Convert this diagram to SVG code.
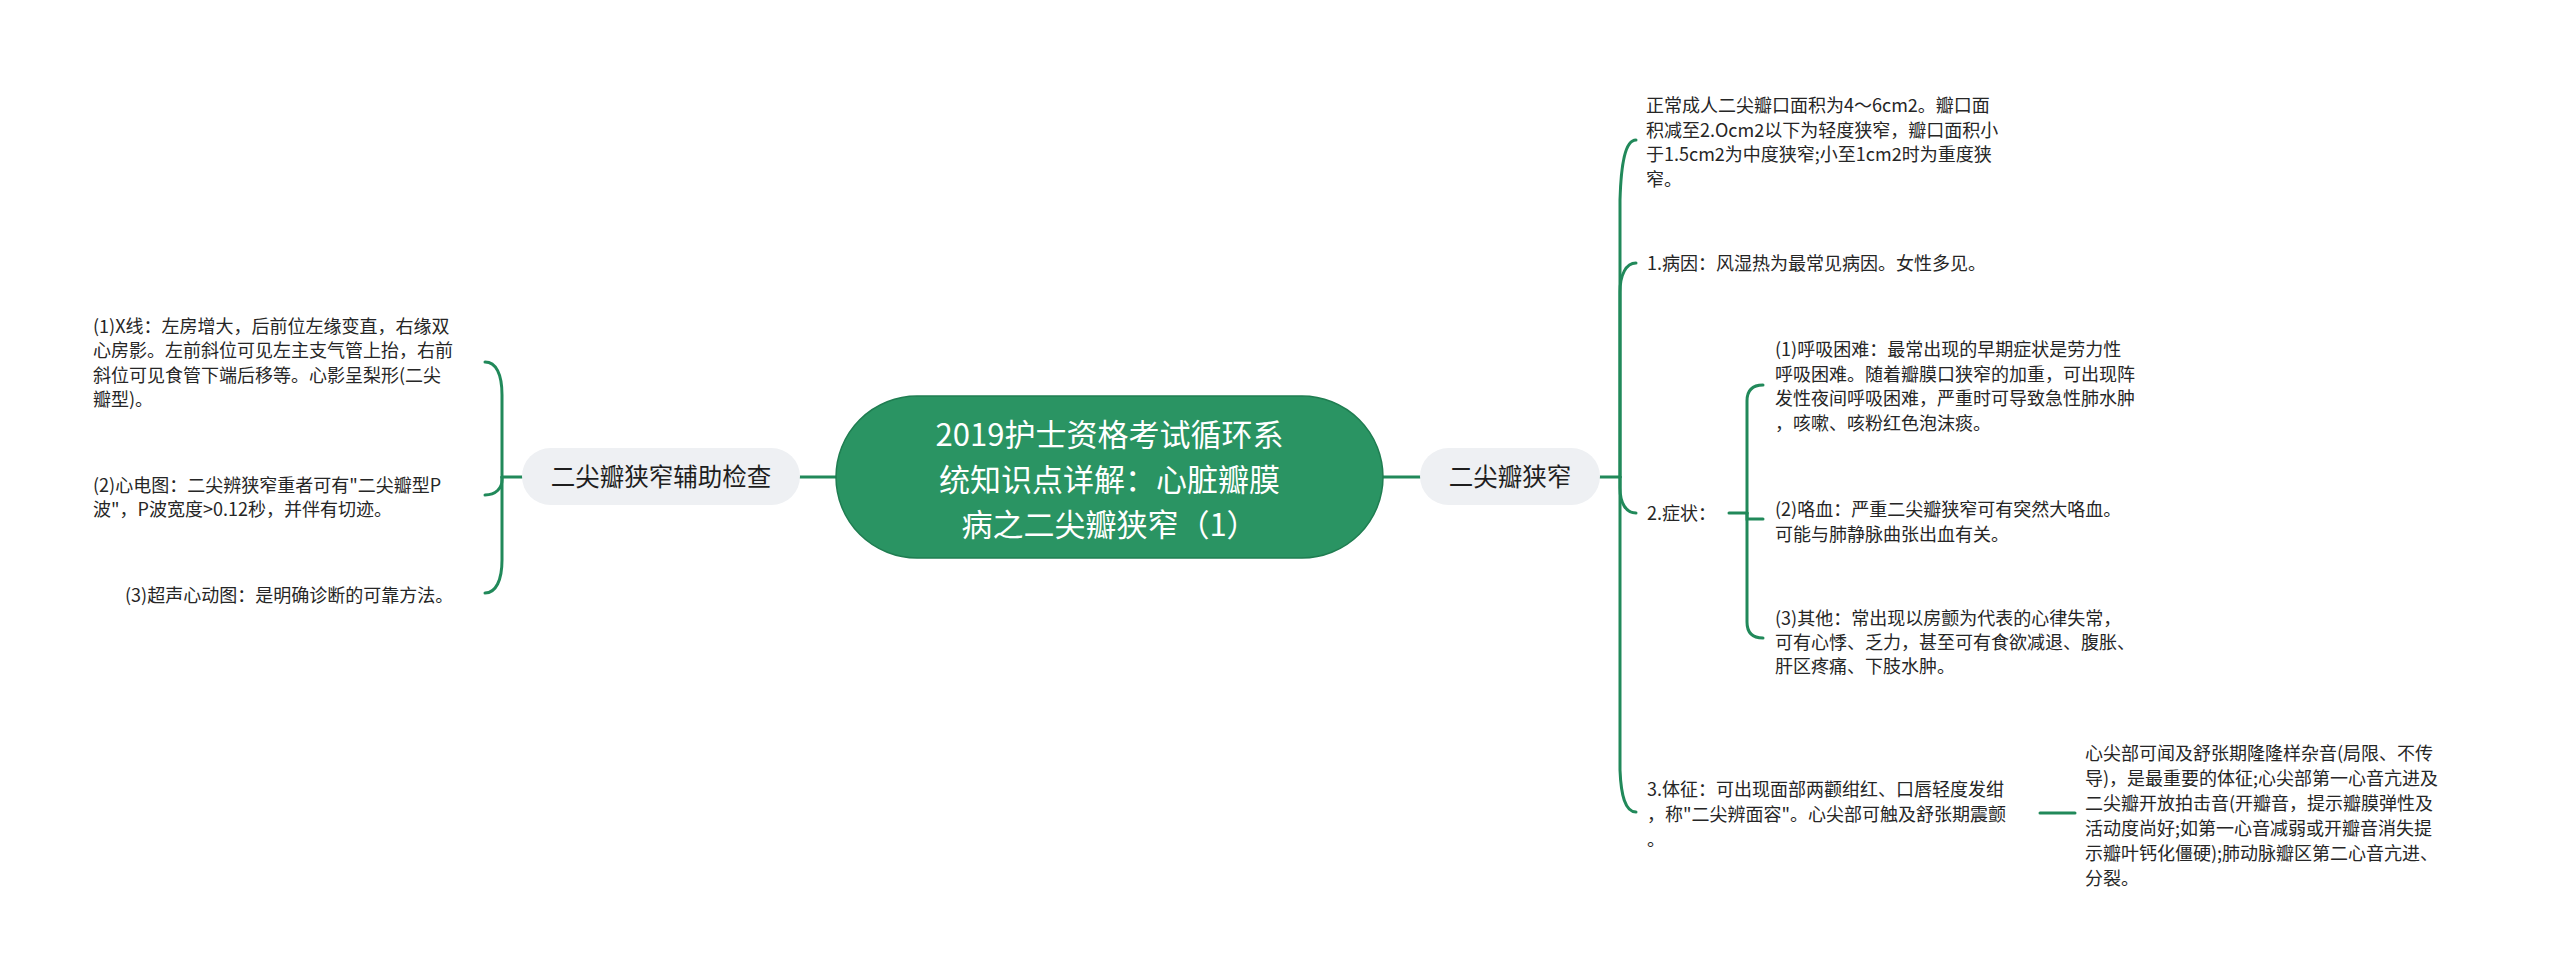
<svg xmlns="http://www.w3.org/2000/svg" width="2560" height="979" viewBox="0 0 2560 979">
<style>
  .bg { fill: #ffffff; }
  .conn { fill: none; stroke: #21895a; stroke-width: 3; stroke-linecap: round; }
  .root { fill: #2a9463; stroke: #1f7d51; stroke-width: 1.5; }
  .sub { fill: #eef0f3; }
  .t { font-family: "Noto Sans CJK SC", "Noto Sans", sans-serif; fill: #262626; font-size: 18px; }
  .rt { font-family: "Noto Sans CJK SC", "Noto Sans", sans-serif; fill: #ffffff; font-size: 31px; text-anchor: middle; }
  .st { font-family: "Noto Sans CJK SC", "Noto Sans", sans-serif; fill: #1e1e1e; font-size: 24.5px; text-anchor: middle; }
</style>
<rect class="bg" x="0" y="0" width="2560" height="979"/>

<g id="connectors">
  <path class="conn" d="M836,477 H800"/>
  <path class="conn" d="M1383,477 H1420"/>
  <!-- left bracket -->
  <path class="conn" d="M522,477 H502"/>
  <path class="conn" d="M502,477 V395 C502,374 496,362 485,362"/>
  <path class="conn" d="M502,477 V480 C502,488 496,495 485,495"/>
  <path class="conn" d="M502,477 V560 C502,580 496,593 485,593"/>
  <!-- right main bracket -->
  <path class="conn" d="M1600,477 H1620"/>
  <path class="conn" d="M1620,477 V200 C1621,165 1625,140 1636,140"/>
  <path class="conn" d="M1620,477 V292 C1620,275 1626,263 1636,263"/>
  <path class="conn" d="M1620,477 V488 C1620,503 1626,513 1636,513"/>
  <path class="conn" d="M1620,477 V770 C1621,795 1625,812 1636,812"/>
  <!-- symptoms sub bracket -->
  <path class="conn" d="M1729,513 H1747"/>
  <path class="conn" d="M1747,513 V401 Q1747,385 1763,385"/>
  <path class="conn" d="M1747,513 V519 H1763"/>
  <path class="conn" d="M1747,513 V622 Q1747,638 1763,638"/>
  <!-- signs to detail -->
  <path class="conn" d="M2040,813 H2075"/>
</g>

<g id="root">
  <rect class="root" x="836" y="396" width="547" height="162" rx="81" ry="81"/>
  <text class="rt" x="1109.5" y="446">2019护士资格考试循环系</text>
  <text class="rt" x="1109.5" y="491">统知识点详解：心脏瓣膜</text>
  <text class="rt" x="1109.5" y="536">病之二尖瓣狭窄（1）</text>
</g>

<g id="node-left">
  <rect class="sub" x="522" y="448" width="278" height="57" rx="28.5" ry="28.5"/>
  <text class="st" x="661" y="486">二尖瓣狭窄辅助检查</text>
</g>

<g id="node-right">
  <rect class="sub" x="1420" y="448" width="180" height="57" rx="28.5" ry="28.5"/>
  <text class="st" x="1510" y="486">二尖瓣狭窄</text>
</g>

<g id="left-xray">
  <text class="t">
    <tspan x="93" y="333">(1)X线：左房增大，后前位左缘变直，右缘双</tspan>
    <tspan x="93" y="357">心房影。左前斜位可见左主支气管上抬，右前</tspan>
    <tspan x="93" y="382">斜位可见食管下端后移等。心影呈梨形(二尖</tspan>
    <tspan x="93" y="406">瓣型)。</tspan>
  </text>
</g>

<g id="left-ecg">
  <text class="t">
    <tspan x="93" y="492">(2)心电图：二尖辨狭窄重者可有"二尖瓣型P</tspan>
    <tspan x="93" y="516">波"，P波宽度&gt;0.12秒，并伴有切迹。</tspan>
  </text>
</g>

<g id="left-echo">
  <text class="t"><tspan x="125" y="602">(3)超声心动图：是明确诊断的可靠方法。</tspan></text>
</g>

<g id="right-area">
  <text class="t">
    <tspan x="1646" y="112">正常成人二尖瓣口面积为4～6cm2。瓣口面</tspan>
    <tspan x="1646" y="136.5">积减至2.Ocm2以下为轻度狭窄，瓣口面积小</tspan>
    <tspan x="1646" y="161">于1.5cm2为中度狭窄;小至1cm2时为重度狭</tspan>
    <tspan x="1646" y="185.5">窄。</tspan>
  </text>
</g>

<g id="right-cause">
  <text class="t"><tspan x="1647" y="270">1.病因：风湿热为最常见病因。女性多见。</tspan></text>
</g>

<g id="right-symptoms">
  <text class="t"><tspan x="1647" y="520">2.症状：</tspan></text>
</g>

<g id="sym-dyspnea">
  <text class="t">
    <tspan x="1775" y="356">(1)呼吸困难：最常出现的早期症状是劳力性</tspan>
    <tspan x="1775" y="380.5">呼吸困难。随着瓣膜口狭窄的加重，可出现阵</tspan>
    <tspan x="1775" y="405">发性夜间呼吸困难，严重时可导致急性肺水肿</tspan>
    <tspan x="1775" y="429.5">，咳嗽、咳粉红色泡沫痰。</tspan>
  </text>
</g>

<g id="sym-hemoptysis">
  <text class="t">
    <tspan x="1775" y="516">(2)咯血：严重二尖瓣狭窄可有突然大咯血。</tspan>
    <tspan x="1775" y="540.5">可能与肺静脉曲张出血有关。</tspan>
  </text>
</g>

<g id="sym-other">
  <text class="t">
    <tspan x="1775" y="625">(3)其他：常出现以房颤为代表的心律失常，</tspan>
    <tspan x="1775" y="649">可有心悸、乏力，甚至可有食欲减退、腹胀、</tspan>
    <tspan x="1775" y="673">肝区疼痛、下肢水肿。</tspan>
  </text>
</g>

<g id="right-signs">
  <text class="t">
    <tspan x="1647" y="796">3.体征：可出现面部两颧绀红、口唇轻度发绀</tspan>
    <tspan x="1647" y="821">，称"二尖辨面容"。心尖部可触及舒张期震颤</tspan>
    <tspan x="1647" y="846">。</tspan>
  </text>
</g>

<g id="signs-detail">
  <text class="t">
    <tspan x="2085" y="760">心尖部可闻及舒张期隆隆样杂音(局限、不传</tspan>
    <tspan x="2085" y="785">导)，是最重要的体征;心尖部第一心音亢进及</tspan>
    <tspan x="2085" y="810">二尖瓣开放拍击音(开瓣音，提示瓣膜弹性及</tspan>
    <tspan x="2085" y="835">活动度尚好;如第一心音减弱或开瓣音消失提</tspan>
    <tspan x="2085" y="860">示瓣叶钙化僵硬);肺动脉瓣区第二心音亢进、</tspan>
    <tspan x="2085" y="885">分裂。</tspan>
  </text>
</g>
</svg>
